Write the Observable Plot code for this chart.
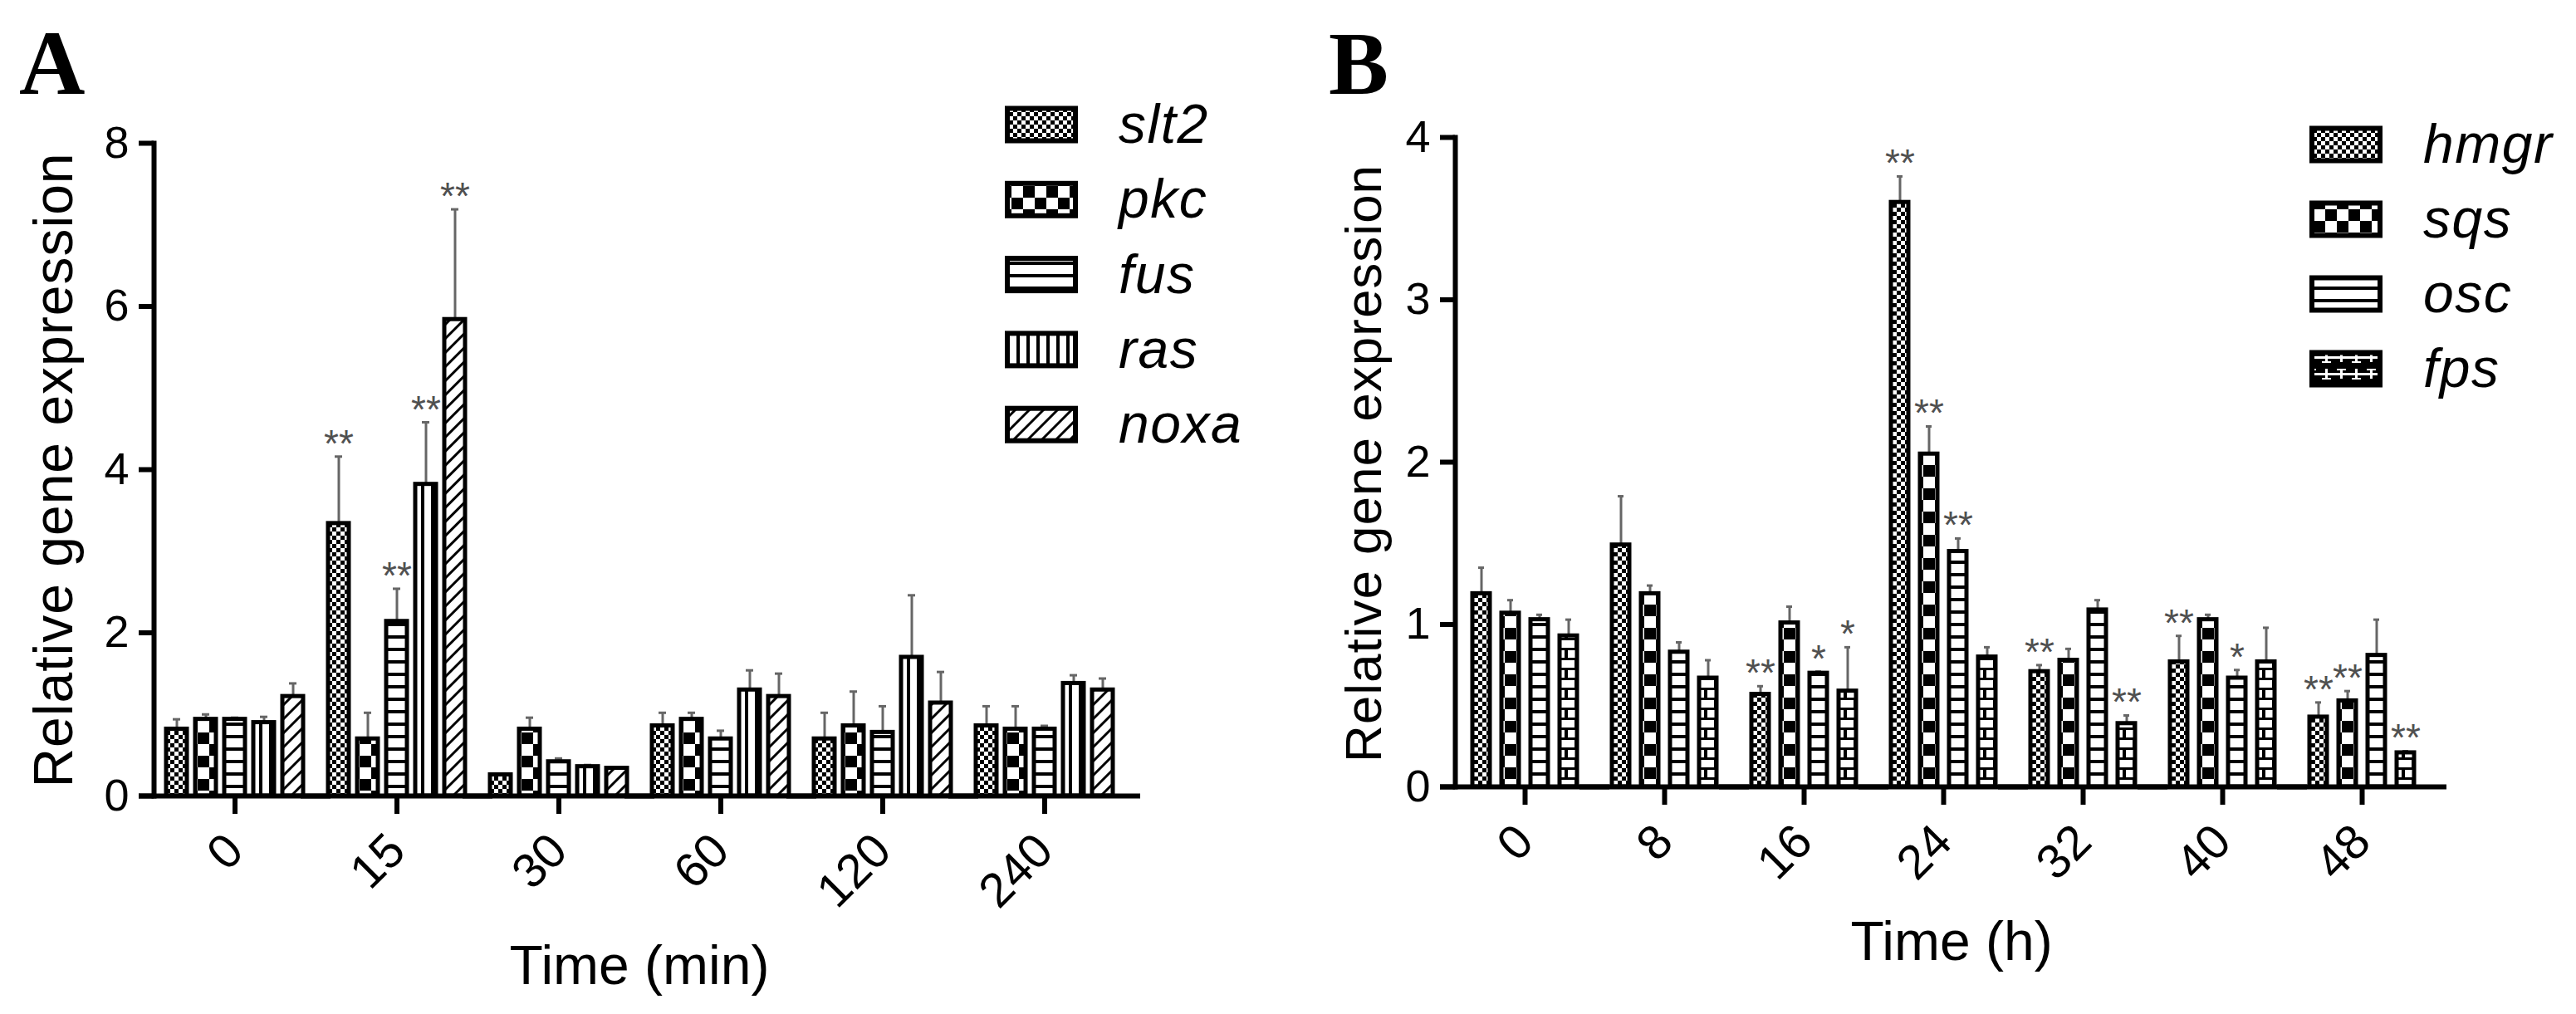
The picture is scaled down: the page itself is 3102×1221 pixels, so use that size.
<!DOCTYPE html>
<html><head><meta charset="utf-8">
<script src="https://cdn.jsdelivr.net/npm/d3@7"></script>
<script src="https://cdn.jsdelivr.net/npm/@observablehq/plot@0.6"></script>
<style>
body{margin:0;background:#fff}
#wrap{position:relative;width:3102px;height:1221px;background:#fff;overflow:hidden}
.panel{position:absolute;top:0;height:1221px}
#overlay{position:absolute;left:0;top:0;pointer-events:none}
</style></head><body>
<div id="wrap">
  <div id="pa" class="panel" style="left:0;width:1560px"></div>
  <div id="pb" class="panel" style="left:1560px;width:1542px"></div>
  <svg id="overlay" width="3102" height="1221" xmlns="http://www.w3.org/2000/svg"></svg>
</div>
<script>
// ---------- Panel A data ----------
const timesA = ["0", "15", "30", "60", "120", "240"];
const genesA = ["slt2", "pkc", "fus", "ras", "noxa"];
const slt2Mean = [0.82, 3.34, 0.26, 0.86, 0.70, 0.86];
const slt2Err  = [0.12, 0.82, 0.00, 0.16, 0.32, 0.24];
const slt2Sig  = ["", "**", "", "", "", ""];
const pkcMean  = [0.94, 0.70, 0.82, 0.94, 0.86, 0.82];
const pkcErr   = [0.06, 0.32, 0.14, 0.08, 0.42, 0.28];
const pkcSig   = ["", "", "", "", "", ""];
const fusMean  = [0.94, 2.14, 0.42, 0.70, 0.78, 0.82];
const fusErr   = [0.02, 0.40, 0.04, 0.10, 0.32, 0.04];
const fusSig   = ["", "**", "", "", "", ""];
const rasMean  = [0.90, 3.82, 0.36, 1.30, 1.70, 1.38];
const rasErr   = [0.07, 0.76, 0.02, 0.24, 0.76, 0.10];
const rasSig   = ["", "**", "", "", "", ""];
const noxaMean = [1.22, 5.84, 0.34, 1.22, 1.14, 1.30];
const noxaErr  = [0.16, 1.35, 0.00, 0.28, 0.38, 0.14];
const noxaSig  = ["", "**", "", "", "", ""];
const yTicksA = [0, 2, 4, 6, 8];

// ---------- Panel B data ----------
const timesB = ["0", "8", "16", "24", "32", "40", "48"];
const genesB = ["hmgr", "sqs", "osc", "fps"];
const hmgrMean = [1.19, 1.49, 0.57, 3.60, 0.71, 0.77, 0.43];
const hmgrErr  = [0.16, 0.30, 0.05, 0.16, 0.04, 0.16, 0.09];
const hmgrSig  = ["", "", "**", "**", "**", "**", "**"];
const sqsMean  = [1.07, 1.19, 1.01, 2.05, 0.78, 1.03, 0.53];
const sqsErr   = [0.08, 0.05, 0.10, 0.17, 0.07, 0.03, 0.06];
const sqsSig   = ["", "", "", "**", "", "", "**"];
const oscMean  = [1.03, 0.83, 0.70, 1.45, 1.09, 0.67, 0.81];
const oscErr   = [0.03, 0.06, 0.01, 0.08, 0.06, 0.05, 0.22];
const oscSig   = ["", "", "*", "**", "", "*", ""];
const fpsMean  = [0.93, 0.67, 0.59, 0.80, 0.39, 0.77, 0.21];
const fpsErr   = [0.10, 0.11, 0.27, 0.06, 0.05, 0.21, 0.01];
const fpsSig   = ["", "", "*", "", "**", "", "**"];
const yTicksB = [0, 1, 2, 3, 4];

const FONT = "'Liberation Sans', Arial, Helvetica, sans-serif";
const ERR = "#666666";
const STAR = "#505050";

function buildRows(times, genes, means, errs, sigs) {
  const rows = [];
  genes.forEach((g, gi) => times.forEach((t, ti) => rows.push({
    time: t, gene: g, mean: means[gi][ti], err: errs[gi][ti], star: sigs[gi][ti]
  })));
  return rows;
}
const rowsA = buildRows(timesA, genesA,
  [slt2Mean, pkcMean, fusMean, rasMean, noxaMean],
  [slt2Err, pkcErr, fusErr, rasErr, noxaErr],
  [slt2Sig, pkcSig, fusSig, rasSig, noxaSig]);
const rowsB = buildRows(timesB, genesB,
  [hmgrMean, sqsMean, oscMean, fpsMean],
  [hmgrErr, sqsErr, oscErr, fpsErr],
  [hmgrSig, sqsSig, oscSig, fpsSig]);

// ---------- patterns ----------
const overlay = d3.select("#overlay");
const defs = overlay.append("defs");
function pat(id, w, h, draw, transform) {
  const p = defs.append("pattern").attr("id", id).attr("patternUnits", "userSpaceOnUse")
    .attr("width", w).attr("height", h);
  if (transform) p.attr("patternTransform", transform);
  draw(p);
}
const rect = (p, x, y, w, h, f) => p.append("rect").attr("x", x).attr("y", y).attr("width", w).attr("height", h).attr("fill", f);
pat("p-fine", 10, 10, p => { rect(p,0,0,10,10,"#fff"); rect(p,0,0,5,5,"#000"); rect(p,5,5,5,5,"#000"); });
pat("p-coarse", 28, 28, p => { rect(p,0,0,28,28,"#fff"); rect(p,0,0,14,14,"#000"); rect(p,14,14,14,14,"#000"); });
pat("p-hlines", 10, 15, p => { rect(p,0,0,10,15,"#fff"); rect(p,0,0,10,4,"#000"); });
pat("p-vlines", 12, 10, p => { rect(p,0,0,12,10,"#fff"); rect(p,0,0,4,10,"#000"); });
pat("p-diag", 12, 12, p => { rect(p,0,0,12,12,"#fff"); rect(p,0,0,3,12,"#000"); }, "rotate(45)");
pat("p-brick", 24, 24, p => { rect(p,0,0,24,24,"#fff"); rect(p,0,0,24,3,"#000"); rect(p,0,12,24,3,"#000"); rect(p,0,0,4,12,"#000"); rect(p,12,12,4,12,"#000"); });
pat("p-brickinv", 36, 20, p => { rect(p,0,0,36,20,"#000"); rect(p,0,9,36,3,"#fff"); rect(p,10,4,3,12,"#fff"); rect(p,28,4,3,12,"#fff"); rect(p,6,4,11,2,"#fff"); rect(p,24,15,11,2,"#fff"); });

const patsA = ["url(#p-fine)", "url(#p-coarse)", "url(#p-hlines)", "url(#p-vlines)", "url(#p-diag)"];
const patsB = ["url(#p-fine)", "url(#p-coarse)", "url(#p-hlines)", "url(#p-brick)"];
const legendPatsB = ["url(#p-fine)", "url(#p-coarse)", "url(#p-hlines)", "url(#p-brickinv)"];

function panel(o) {
  const withErr = o.rows.filter(d => d.err > 0);
  return Plot.plot({
    width: o.width, height: 1221,
    marginLeft: o.ml, marginRight: o.mr, marginTop: o.mt, marginBottom: o.mb,
    style: {fontFamily: FONT, background: "transparent", color: "#000", overflow: "visible"},
    fx: {domain: o.times, padding: 0},
    x: {domain: o.genes, paddingInner: o.pi, paddingOuter: o.po, axis: null},
    y: {domain: [0, o.yMax]},
    color: {domain: o.genes, range: o.pats},
    marks: [
      Plot.ruleX(withErr, {fx: "time", x: "gene", y1: "mean", y2: d => d.mean + d.err, stroke: ERR, strokeWidth: 3}),
      Plot.tickY(withErr, {fx: "time", x: "gene", y: d => d.mean + d.err, stroke: ERR, strokeWidth: 3, insetLeft: o.cap, insetRight: o.cap}),
      Plot.barY(o.rows, {fx: "time", x: "gene", y: "mean", fill: "gene", stroke: "#000", strokeWidth: 5}),
      Plot.text(o.rows.filter(d => d.star), {fx: "time", x: "gene", y: d => d.mean + d.err, text: "star",
        lineAnchor: "bottom", dy: 0, fontSize: 46, fill: STAR}),
      Plot.ruleY([0], {stroke: "#000", strokeWidth: 6, insetLeft: -18, insetRight: -18}),
      Plot.frame({anchor: "left", facetAnchor: "left", stroke: "#000", strokeWidth: 6}),
      Plot.axisY({ticks: o.yTicks, tickFormat: d => String(d), tickSize: 18, tickPadding: 12, fontSize: 54,
        stroke: "#000", strokeWidth: 6, label: null}),
      Plot.axisFx({anchor: "bottom", tickRotate: -45, tickSize: 22, tickPadding: 34, fontSize: 58,
        stroke: "#000", strokeWidth: 6, label: null})
    ]
  });
}

document.getElementById("pa").append(panel({
  rows: rowsA, times: timesA, genes: genesA, pats: patsA, yMax: 8, yTicks: yTicksA,
  width: 1560, ml: 185, mr: 205, mt: 172, mb: 263, pi: 0.29, po: 0.43, cap: 8
}));
document.getElementById("pb").append(panel({
  rows: rowsB, times: timesB, genes: genesB, pats: patsB, yMax: 4, yTicks: yTicksB,
  width: 1542, ml: 192, mr: 174, mt: 165, mb: 274, pi: 0.39, po: 0.53, cap: 7
}));

// ---------- overlay texts & legends ----------
function txt(x, y, s, attrs) {
  const t = overlay.append("text").attr("x", x).attr("y", y).text(s);
  Object.entries(attrs).forEach(([k, v]) => t.attr(k, v));
  return t;
}
txt(23, 113, "A", {"font-family": "'Liberation Serif', 'Times New Roman', serif", "font-weight": "bold", "font-size": 110});
txt(1600, 113, "B", {"font-family": "'Liberation Serif', 'Times New Roman', serif", "font-weight": "bold", "font-size": 108});
txt(0, 0, "Relative gene expression", {"font-family": FONT, "font-size": 66, "letter-spacing": 1,
  "text-anchor": "middle", transform: "translate(87,566) rotate(-90)"});
txt(0, 0, "Relative gene expression", {"font-family": FONT, "font-size": 62, "letter-spacing": 1,
  "text-anchor": "middle", transform: "translate(1663,558) rotate(-90)"});
txt(770, 1185, "Time (min)", {"font-family": FONT, "font-size": 66, "text-anchor": "middle"});
txt(2350, 1156, "Time (h)", {"font-family": FONT, "font-size": 66, "text-anchor": "middle"});

function legend(genes, pats, x0, y0, step) {
  genes.forEach((g, i) => {
    const cy = y0 + i * step;
    overlay.append("rect").attr("x", x0 + 3).attr("y", cy - 22.5 + 3).attr("width", 82).attr("height", 39)
      .attr("fill", pats[i]).attr("stroke", "#000").attr("stroke-width", 6);
    txt(x0 + 137, cy + 22, g, {"font-family": FONT, "font-style": "italic", "font-size": 66, "letter-spacing": 1.5});
  });
}
legend(genesA, patsA, 1210, 150, 90.3);
legend(genesB, legendPatsB, 2781, 174, 90);
</script>
</body></html>
